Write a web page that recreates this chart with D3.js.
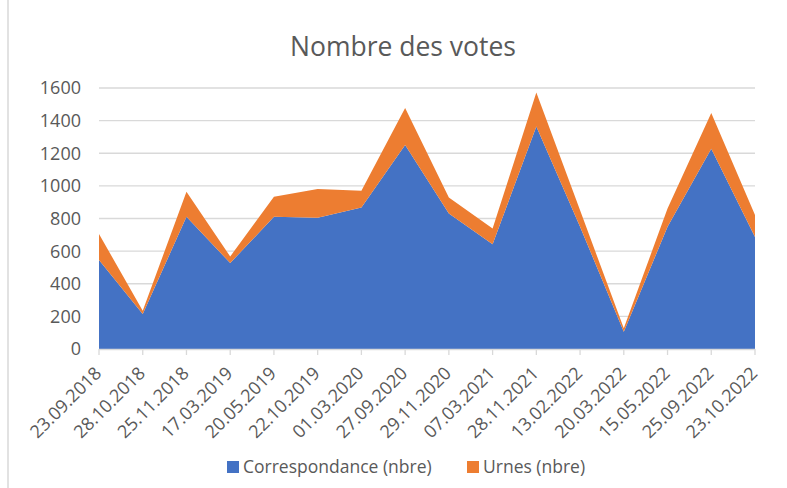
<!DOCTYPE html>
<html><head><meta charset="utf-8">
<script src="https://cdn.jsdelivr.net/npm/d3@7"></script>
<style>body{margin:0;background:#fff}svg{display:block}text{font-family:"Open Sans",sans-serif;fill:#595959}</style>
</head><body><svg id="c" width="787" height="488"></svg>
<script>
const dates = ["23.09.2018","28.10.2018","25.11.2018","17.03.2019","20.05.2019","22.10.2019","01.03.2020","27.09.2020","29.11.2020","07.03.2021","28.11.2021","13.02.2022","20.03.2022","15.05.2022","25.09.2022","23.10.2022"];
const correspondance = [545,215,810,527,810,805,868,1250,831,642,1364,750,105,749,1227,687];
const urnes = [160,20,154,40,123,176,102,228,98,96,209,100,22,112,219,135];
const yTicks = [0,200,400,600,800,1000,1200,1400,1600];
const seriesNames = ["Correspondance (nbre)","Urnes (nbre)"];
const colors = ["#4472C4","#ED7D31"];

const svg = d3.select("#c");
const x = d3.scalePoint().domain(dates).range([99,755]);
const y = d3.scaleLinear().domain([0,1600]).range([349,88]);

svg.append("line").attr("x1",8).attr("x2",8).attr("y1",0).attr("y2",488).attr("stroke","#D9D9D9").attr("stroke-width",1.5);

svg.append("text").attr("x",403).attr("y",56).attr("text-anchor","middle").style("font-size","26.5px").text("Nombre des votes");

// gridlines
svg.append("g").selectAll("line").data(yTicks.slice(1)).join("line")
  .attr("x1",99).attr("x2",755).attr("y1",d=>y(d)).attr("y2",d=>y(d))
  .attr("stroke","#D9D9D9").attr("stroke-width",1.3);

// y labels
svg.append("g").selectAll("text").data(yTicks).join("text")
  .attr("x",81).attr("y",d=>y(d)).attr("dy","0.36em").attr("text-anchor","end")
  .style("font-size","18px").text(d=>d);

// stack
const table = dates.map((d,i)=>({date:d, c:correspondance[i], u:urnes[i]}));
const stack = d3.stack().keys(["c","u"])(table);
const area = d3.area().x(d=>x(d.data.date)).y0(d=>y(d[0])).y1(d=>y(d[1]));
svg.append("g").selectAll("path").data(stack).join("path")
  .attr("d",area).attr("fill",(d,i)=>colors[i]);

// x axis
const ax = svg.append("g");
ax.append("line").attr("x1",99).attr("x2",755).attr("y1",349.5).attr("y2",349.5).attr("stroke","#D9D9D9").attr("stroke-width",1.3);
ax.selectAll("line.t").data(dates).join("line").attr("class","t")
  .attr("x1",d=>x(d)).attr("x2",d=>x(d)).attr("y1",349).attr("y2",355)
  .attr("stroke","#D9D9D9").attr("stroke-width",1.3);
ax.selectAll("text").data(dates).join("text")
  .attr("transform",d=>`translate(${x(d)-1},370) rotate(-45)`)
  .attr("text-anchor","end").attr("dy","0.35em").style("font-size","18px").text(d=>d);

// legend
const leg = [{x:227,name:seriesNames[0],c:colors[0]},{x:467,name:seriesNames[1],c:colors[1]}];
const lg = svg.append("g").selectAll("g").data(leg).join("g");
lg.append("rect").attr("x",d=>d.x).attr("y",461).attr("width",12).attr("height",12).attr("fill",d=>d.c);
lg.append("text").attr("x",d=>d.x+16).attr("y",467).attr("dy","0.35em").style("font-size","17.5px").text(d=>d.name);
</script></body></html>
